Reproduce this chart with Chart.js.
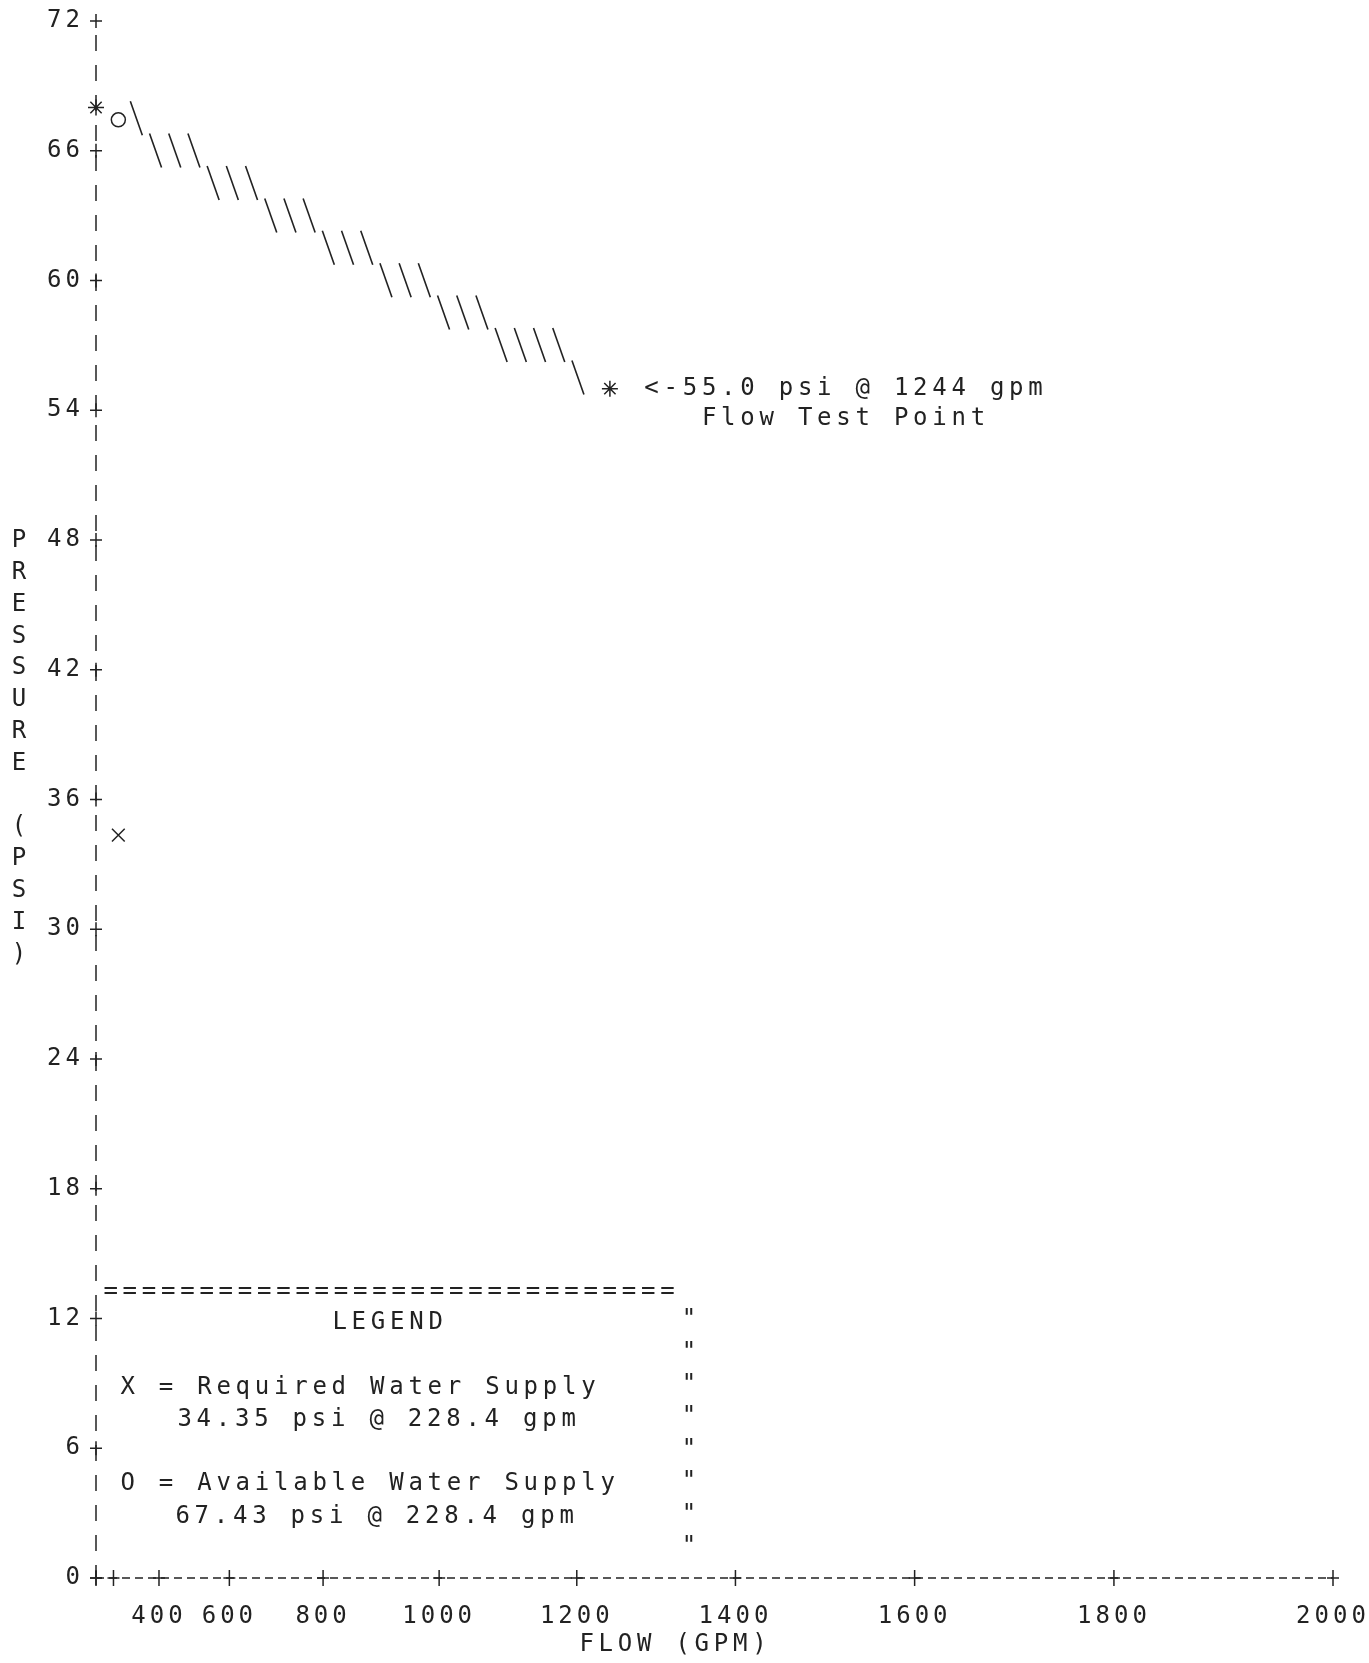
<!DOCTYPE html>
<html>
<head>
<meta charset="utf-8">
<title>Water supply graph</title>
<script src="https://cdn.jsdelivr.net/npm/chart.js@4/dist/chart.umd.min.js"></script>
<style>
  html, body { margin: 0; padding: 0; background: #fff; }
  #wrap { width: 1369px; height: 1663px; position: relative; }
</style>
</head>
<body>
<div id="wrap"><canvas id="chart"></canvas></div>
<script>
// hydraulic graph paper: flow axis runs on Q^1.85
const N = 1.85;
const toScale = q => Math.pow(q, N);

const flowTicks = [0, 200, 400, 600, 800, 1000, 1200, 1400, 1600, 1800, 2000];
const flowTickLabels = ['', '', '400', '600', '800', '1000', '1200', '1400', '1600', '1800', '2000'];
const pressureMin = 0;
const pressureMax = 72;
const pressureStep = 6;

// available supply: static point -> flow test point
const supplyFlow = [0, 228.4, 1244];
const supplyPressure = [68.0, 67.43, 55.0];

// "*" marks: static pressure and flow test point
const starFlow = [0, 1244];
const starPressure = [68.0, 55.0];

// "O" available, "X" required
const availFlow = [228.4];
const availPressure = [67.43];
const reqFlow = [228.4];
const reqPressure = [34.35];

const yTitle = 'PRESSURE (PSI)';
const xTitle = 'FLOW (GPM)';
const testLabel = ['<-55.0 psi @ 1244 gpm', 'Flow Test Point'];
const legendLines = ['X = Required Water Supply', '34.35 psi @ 228.4 gpm', 'O = Available Water Supply', '67.43 psi @ 228.4 gpm'];

const INK = '#222';
const FONT = "'DejaVu Sans Mono', 'Liberation Mono', monospace";
const PITCH = 19.2;
const ROW = 32.4;

const pts = (xs, ys) => xs.map((q, i) => ({ x: toScale(q), y: ys[i] }));

function drawMono(ctx, str, x, y, pitch) {
    for (let i = 0; i < str.length; i++) {
        ctx.fillText(str[i], x + i * pitch + pitch / 2, y);
    }
}

function plus(ctx, x, y, h, v) {
    ctx.beginPath();
    ctx.moveTo(x - h, y);
    ctx.lineTo(x + h, y);
    ctx.moveTo(x, y - v);
    ctx.lineTo(x, y + v);
    ctx.stroke();
}

const printPlugin = {
    id: 'printText',
    beforeLayout(chart) { chart.ctx.letterSpacing = '4px'; },
    beforeDraw(chart) {
        const ctx = chart.ctx;
        ctx.save();
        ctx.fillStyle = '#fff';
        ctx.fillRect(0, 0, chart.width, chart.height);
        ctx.restore();
        ctx.letterSpacing = '4px';
    },
    beforeDatasetsDraw(chart) {
        // dashed axis lines with "+" ticks, like the printer's | - + characters
        const ctx = chart.ctx;
        const a = chart.chartArea;
        const xs = chart.scales.x, ys = chart.scales.y;
        ctx.save();
        ctx.strokeStyle = INK;
        ctx.lineWidth = 1.5;
        ctx.setLineDash([16, 14]);
        ctx.beginPath();
        ctx.moveTo(a.left, a.top + 14);
        ctx.lineTo(a.left, a.bottom);
        ctx.stroke();
        ctx.setLineDash([8, 5]);
        ctx.beginPath();
        ctx.moveTo(a.left, a.bottom);
        ctx.lineTo(a.right, a.bottom);
        ctx.stroke();
        ctx.setLineDash([]);
        ys.ticks.forEach(t => plus(ctx, a.left, ys.getPixelForValue(t.value), 6, 7));
        xs.ticks.forEach(t => plus(ctx, xs.getPixelForValue(t.value), a.bottom, 6, 8));
        ctx.restore();
    },
    afterDatasetsDraw(chart) {
        // supply curve printed as rows of backslashes along the dataset's segment
        const ctx = chart.ctx;
        const a = chart.chartArea;
        const pts0 = chart.getDatasetMeta(0).data;
        const p1 = pts0[1], p2 = pts0[2];
        ctx.save();
        ctx.strokeStyle = INK;
        ctx.lineWidth = 1.6;
        for (let x = p1.x + 18; x < p2.x - 16; x += PITCH) {
            const t = (x - p1.x) / (p2.x - p1.x);
            const y = p1.y + t * (p2.y - p1.y);
            const yq = a.top + Math.round((y - a.top) / ROW) * ROW;
            ctx.beginPath();
            ctx.moveTo(x - 6, yq - 17);
            ctx.lineTo(x + 6, yq + 17);
            ctx.stroke();
        }
        ctx.restore();
    },
    afterDraw(chart) {
        const ctx = chart.ctx;
        const area = chart.chartArea;
        ctx.save();
        ctx.letterSpacing = '0px';
        ctx.fillStyle = INK;
        ctx.font = '24px ' + FONT;
        ctx.textAlign = 'center';
        ctx.textBaseline = 'middle';

        // stacked y title
        for (let i = 0; i < yTitle.length; i++) {
            ctx.fillText(yTitle[i], 19, 541 + i * 31.8);
        }
        // x title
        drawMono(ctx, xTitle, 577, 1645, PITCH);

        // flow test label, next to the test point
        const p = chart.getDatasetMeta(1).data[1];
        drawMono(ctx, testLabel[0], p.x + 32, p.y, PITCH);
        drawMono(ctx, testLabel[1], p.x + 32 + 3 * PITCH, p.y + 30, PITCH);

        // legend block
        drawMono(ctx, '='.repeat(30), area.left + 5, 1292, PITCH);
        drawMono(ctx, 'LEGEND', 330, 1323, PITCH);
        drawMono(ctx, legendLines[0], 118, 1388, PITCH);
        drawMono(ctx, legendLines[1], 175, 1420, PITCH);
        drawMono(ctx, legendLines[2], 118, 1484, PITCH);
        drawMono(ctx, legendLines[3], 173, 1517, PITCH);
        for (let r = 0; r < 8; r++) {
            ctx.fillText('"', 689, 1320 + r * 32.4);
        }
        ctx.restore();
    }
};

const axisFont = { family: FONT, size: 24 };

new Chart(document.getElementById('chart'), {
    type: 'scatter',
    data: {
        datasets: [
            {
                label: 'Available supply',
                data: pts(supplyFlow, supplyPressure),
                showLine: true,
                borderColor: 'rgba(0,0,0,0)',
                borderWidth: 0,
                pointRadius: 0,
                fill: false
            },
            {
                label: 'Static / test',
                data: pts(starFlow, starPressure),
                pointStyle: 'star',
                pointRadius: 8,
                borderColor: INK,
                borderWidth: 1.5,
                showLine: false,
                clip: false
            },
            {
                label: 'Available',
                data: pts(availFlow, availPressure),
                pointStyle: 'circle',
                pointRadius: 7,
                backgroundColor: '#fff',
                borderColor: INK,
                borderWidth: 1.5,
                showLine: false
            },
            {
                label: 'Required',
                data: pts(reqFlow, reqPressure),
                pointStyle: 'crossRot',
                pointRadius: 9,
                borderColor: INK,
                borderWidth: 1.5,
                showLine: false
            }
        ]
    },
    options: {
        responsive: true,
        maintainAspectRatio: false,
        animation: false,
        layout: { padding: { top: 21, right: 36, left: 0, bottom: 0 } },
        plugins: {
            legend: { display: false },
            tooltip: { enabled: false }
        },
        scales: {
            x: {
                type: 'linear',
                min: 0,
                max: toScale(2000),
                afterBuildTicks: s => { s.ticks = flowTicks.map(q => ({ value: toScale(q) })); },
                afterFit: s => { s.height = 85; s.paddingRight = 0; },
                ticks: {
                    autoSkip: false,
                    maxRotation: 0,
                    padding: 16,
                    color: INK,
                    font: axisFont,
                    callback: (v, i) => flowTickLabels[i]
                },
                grid: { display: false },
                border: { display: false }
            },
            y: {
                min: pressureMin,
                max: pressureMax,
                afterFit: s => { s.width = 96; },
                ticks: {
                    stepSize: pressureStep,
                    padding: 4,
                    color: INK,
                    font: axisFont
                },
                grid: { display: false },
                border: { display: false }
            }
        }
    },
    plugins: [printPlugin]
});
</script>
</body>
</html>
